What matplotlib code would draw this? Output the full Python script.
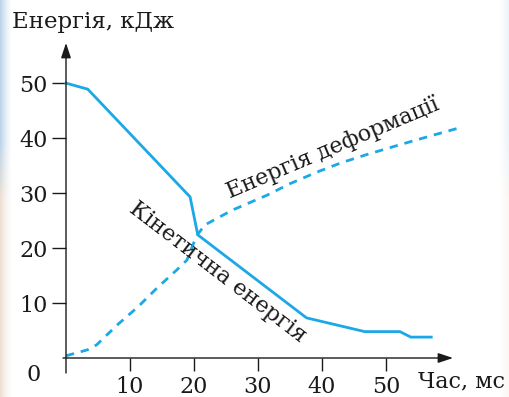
import matplotlib
matplotlib.use("Agg")
import matplotlib.pyplot as plt
import numpy as np

plt.rcParams['font.family'] = ['DejaVu Serif']

# Кінетична енергія (суцільна лінія)
kin_t = [0, 3.4, 19.4, 20.6, 37.6, 46.7, 52.2, 53.9, 57.1]
kin_e = [50, 48.9, 29.3, 22.4, 7.3, 4.8, 4.8, 3.8, 3.8]

# Енергія деформації (штрихова лінія)
def_t = [0, 3.4, 4.8, 8.0, 11.25, 14.2, 17.3, 18.9, 20.4, 21.7,
         26.0, 31.4, 35.0, 39.2, 43.0, 47.0, 52.2, 57.3, 61.6]
def_e = [0.4, 1.5, 2.4, 6.0, 9.3, 12.7, 16.0, 17.8, 22.2, 24.2,
         26.9, 29.6, 31.7, 33.8, 35.5, 37.0, 38.8, 40.5, 41.9]

x_ticks = [10, 20, 30, 40, 50]
y_ticks = [10, 20, 30, 40, 50]

W, H = 509, 397
fig = plt.figure(figsize=(W / 100, H / 100), dpi=100)

# розмитий край сторінки зліва та справа
edge = np.zeros((H, W, 4))
rows = np.arange(H)[:, None]
cols = np.arange(W)[None, :]
mix = np.clip((rows - 140) / 60, 0, 1)
blue_edge = np.array([0.62, 0.76, 0.88])
sand_edge = np.array([0.90, 0.83, 0.76])
for k in range(3):
    edge[..., k] = blue_edge[k] * (1 - mix) + sand_edge[k] * mix
left_a = np.clip(1 - cols / 12, 0, 1) ** 1.5 * 0.7
right_a = np.clip((cols - (W - 10)) / 10, 0, 1) * 0.2
edge[..., 3] = np.maximum(left_a, right_a)
fig.figimage(edge, xo=0, yo=0, origin='upper', zorder=0)

ax = fig.add_axes([66 / W, (H - 358) / H, (453 - 66) / W, (358 - 43) / H])
ax.patch.set_alpha(0)
ax.set_xlim(0, 60.5)
ax.set_ylim(0, 57.3)

blue = '#1ba8e6'
ax.plot(kin_t, kin_e, color=blue, lw=2.0, clip_on=False, solid_joinstyle='miter')
ax.plot(def_t, def_e, color=blue, lw=2.0, ls=(0, (3.0, 2.5)), clip_on=False)

for s in ax.spines.values():
    s.set_visible(False)

# осі зі стрілками
arrow = dict(arrowstyle='-|>,head_length=0.9,head_width=0.3', color='#1a1a1a',
             lw=1.0, shrinkA=0, shrinkB=0)
ax.annotate('', xy=(1, 0), xytext=(-3 / 387, 0), xycoords='axes fraction',
            arrowprops=arrow)
ax.annotate('', xy=(0, 1), xytext=(0, -15 / 315), xycoords='axes fraction',
            arrowprops=arrow)

ax.set_xticks(x_ticks)
ax.set_yticks(y_ticks)
ax.tick_params(axis='x', direction='out', length=9, width=1.0, color='#1a1a1a',
               labelsize=16, pad=4)
ax.tick_params(axis='y', direction='out', length=10, width=1.0, color='#1a1a1a',
               labelsize=16, pad=3)
for lab in ax.get_xticklabels() + ax.get_yticklabels():
    lab.set_color('#1a1a1a')

ax.text(-0.065, -0.055, '0', transform=ax.transAxes, ha='right', va='center',
        fontsize=16, color='#1a1a1a')

fig.text(12 / W, 1 - 22 / H, 'Енергія, кДж', ha='left', va='center',
         fontsize=16.5, color='#1a1a1a')
fig.text(505 / W, 1 - 381 / H, 'Час, мс', ha='right', va='center',
         fontsize=16, color='#1a1a1a')

ax.text(218 / W, 1 - 272 / H, 'Кінетична енергія', transform=fig.transFigure,
        rotation=-37.5, rotation_mode='anchor', ha='center', va='center',
        fontsize=16, color='#1a1a1a')
ax.text(333 / W, 1 - 148 / H, 'Енергія деформації', transform=fig.transFigure,
        rotation=23, rotation_mode='anchor', ha='center', va='center',
        fontsize=16, color='#1a1a1a')

fig.savefig('out.png', dpi=100)
